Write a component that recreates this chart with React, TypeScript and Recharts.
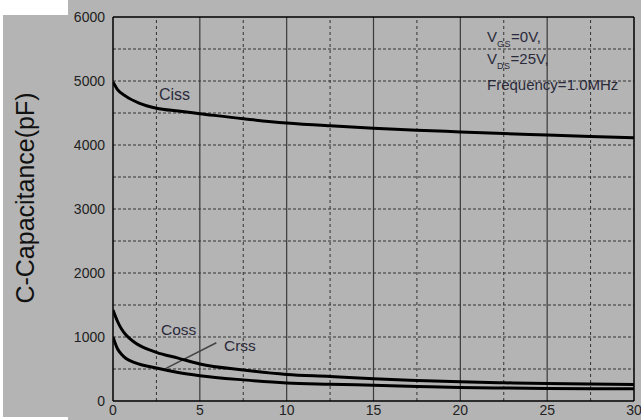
import React from "react";
import { LineChart, Line, XAxis, YAxis, ReferenceLine } from "recharts";

// gate-source / drain-source voltage samples (V) and capacitances (pF)
const cissX = [0, 0.25, 0.75, 1.5, 2.5, 3.75, 5, 7.5, 10, 12.5, 15, 17.5, 20, 22.5, 25, 27.5, 30];
const cissY = [4985, 4870, 4760, 4655, 4575, 4530, 4490, 4410, 4345, 4300, 4263, 4230, 4205, 4180, 4155, 4132, 4115];

const lowX = [0, 0.25, 0.5, 0.75, 1.25, 2.5, 3.75, 5, 7.5, 10, 12.5, 15, 17.5, 20, 22.5, 25, 27.5, 30];
const cossY = [1420, 1250, 1120, 1030, 915, 760, 670, 578, 484, 415, 384, 347, 321, 300, 285, 272, 264, 258];
const crssY = [1000, 820, 725, 665, 600, 515, 445, 395, 330, 282, 263, 247, 228, 210, 203, 197, 193, 190];

const xTicks = [0, 5, 10, 15, 20, 25, 30];
const yTicks = [0, 1000, 2000, 3000, 4000, 5000, 6000];
const xMajor = [5, 10, 15, 20, 25];
const xMinor = [2.5, 7.5, 12.5, 17.5, 22.5, 27.5];
const yMinor = [500, 1000, 1500, 2000, 2500, 3000, 3500, 4000, 4500, 5000, 5500];

const toRows = (xs: number[], ys: number[]) => xs.map((x, i) => ({ v: x, c: ys[i] }));
const cissData = toRows(cissX, cissY);
const cossData = toRows(lowX, cossY);
const crssData = toRows(lowX, crssY);

const GREY = "#b4b4b4";
const FONT = "'Liberation Sans', Arial, sans-serif";
const tick = { fill: "#222", fontSize: 14, fontFamily: FONT };

const txt: React.CSSProperties = {
  position: "absolute",
  fontFamily: FONT,
  color: "#2a2a3a",
  whiteSpace: "nowrap",
  lineHeight: 1,
};

export default function App() {
  return (
    <div style={{ position: "absolute", left: 0, top: 0, width: 641, height: 420, background: "#fff", overflow: "hidden" }}>
      <div style={{ position: "absolute", left: 3, top: 15, width: 638, height: 402, background: GREY }} />
      <div style={{ position: "absolute", left: 68, top: 0, width: 573, height: 420, background: GREY }} />
      <div style={{ position: "absolute", left: 0, top: 0 }}>
        <LineChart width={641} height={420} margin={{ top: 17, right: 7, bottom: 0, left: 53 }}>
          <XAxis
            type="number"
            dataKey="v"
            domain={[0, 30]}
            ticks={xTicks}
            tick={tick}
            tickLine={false}
            tickSize={2}
            tickMargin={2}
            height={19}
            axisLine={{ stroke: "#000", strokeWidth: 1.5 }}
            allowDataOverflow
          />
          <YAxis
            type="number"
            domain={[0, 6000]}
            ticks={yTicks}
            tick={tick}
            tickLine={false}
            width={60}
            axisLine={{ stroke: "#000", strokeWidth: 1.5 }}
            allowDataOverflow
          />
          {yMinor.map((y) => (
            <ReferenceLine key={"h" + y} y={y} stroke="#333" strokeDasharray="3 2" />
          ))}
          {xMinor.map((x) => (
            <ReferenceLine key={"m" + x} x={x} stroke="#333" strokeDasharray="3 3" />
          ))}
          {xMajor.map((x) => (
            <ReferenceLine key={"M" + x} x={x} stroke="#3a3a3a" strokeWidth={1.2} />
          ))}
          <ReferenceLine y={6000} stroke="#000" strokeWidth={1.5} />
          <ReferenceLine x={30} stroke="#000" strokeWidth={1.5} />
          {/* pointer from the Crss label down to its curve */}
          <ReferenceLine
            segment={[
              { x: 5.95, y: 910 },
              { x: 3.05, y: 510 },
            ]}
            stroke="#444"
            strokeWidth={1.5}
          />
          <Line data={cissData} dataKey="c" type="monotone" stroke="#000" strokeWidth={3} dot={false} isAnimationActive={false} />
          <Line data={cossData} dataKey="c" type="monotone" stroke="#000" strokeWidth={3} dot={false} isAnimationActive={false} />
          <Line data={crssData} dataKey="c" type="monotone" stroke="#000" strokeWidth={3} dot={false} isAnimationActive={false} />
        </LineChart>
      </div>

      <div
        style={{
          ...txt,
          left: 25,
          top: 198,
          fontSize: 25,
          color: "#111",
          transform: "translate(-50%, -50%) rotate(-90deg)",
        }}
      >
        C-Capacitance(pF)
      </div>

      <div style={{ ...txt, left: 159, top: 87, fontSize: 16 }}>Ciss</div>
      <div style={{ ...txt, left: 161, top: 322, fontSize: 15.5 }}>Coss</div>
      <div style={{ ...txt, left: 224, top: 338, fontSize: 15.5 }}>Crss</div>

      <div style={{ ...txt, left: 487, top: 29, fontSize: 15 }}>
        V<span style={{ fontSize: 9, position: "relative", top: 5, letterSpacing: 0.5 }}>GS</span>=0V,
      </div>
      <div style={{ ...txt, left: 487, top: 51, fontSize: 15 }}>
        V<span style={{ fontSize: 9, position: "relative", top: 5, letterSpacing: 0.5 }}>DS</span>=25V,
      </div>
      <div style={{ ...txt, left: 487, top: 77, fontSize: 15 }}>Frequency=1.0MHz</div>
    </div>
  );
}
